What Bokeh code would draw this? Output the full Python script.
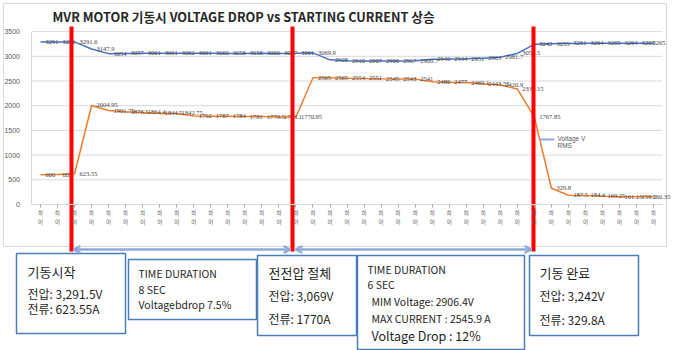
from bokeh.plotting import figure
from bokeh.models import Range1d, LinearAxis, FixedTicker, Arrow, OpenHead
from bokeh.core.properties import value
from bokeh.embed import file_html
from bokeh.resources import INLINE

# ---------------- data ----------------
voltage = [3291, 3291, 3291.6, 3147.9, 3054, 3057, 3061, 3061, 3062, 3061, 3060, 3058,
           3058, 3060, 3057, 3061, 3069.9, 2928, 2910, 2907, 2906, 2907, 2909.7, 2940,
           2944, 2951, 2963, 2981.7, 3058.5, 3242, 3255, 3261, 3264, 3265, 3264, 3265, 3265]
current = [600, 605, 623.55, 2004.95, 1901.75, 1876.5, 1864.4, 1844.5, 1842.75, 1792,
           1787, 1784, 1781, 1779.5, 1773.1, 1770.95, 2565, 2565, 2554, 2551, 2545, 2543,
           2541, 2486, 2477, 2469.1, 2443.55, 2420.9, 2339.15, 1767.85, 329.8, 187.5,
           184.4, 169.25, 161.15, 159.2, 160.35]
tick_label = "하\n어"
y_ticks = [0, 500, 1000, 1500, 2000, 2500, 3000, 3500]
title_text = "MVR MOTOR  기동시 VOLTAGE DROP vs STARTING CURRENT 상승"
legend_text = ["Voltage V", "RMS"]

box1 = ["기동시작", "전압: 3,291.5V", "전류: 623.55A"]
box2 = ["TIME DURATION", "8 SEC", "Voltagebdrop 7.5%"]
box3 = ["전전압 절체", "전압: 3,069V", "전류: 1770A"]
box4 = ["TIME DURATION", "6 SEC", "MIM Voltage: 2906.4V", "MAX CURRENT  : 2545.9 A", "Voltage Drop : 12%"]
box5 = ["기동 완료", "전압: 3,242V", "전류: 329.8A"]

# ---------------- layout constants (pixels) ----------------
W, H = 674, 350
X0, DX = 40.0, 17.03      # pixel of category 0, pixels per category
Y0, KY = 204.0, 0.0494    # pixel of value 0, pixels per unit

idx = list(range(len(voltage)))
n = len(idx)

p = figure(width=W, height=H, output_backend="svg", toolbar_location=None,
           x_axis_location=None, y_axis_location=None, title=None,
           x_range=Range1d(-X0 / DX, (W - X0) / DX),
           y_range=Range1d(-(H - Y0) / KY, Y0 / KY),
           min_border=0, background_fill_color="white", border_fill_color="white")
p.outline_line_color = None
p.grid.visible = False
p.extra_x_ranges = {"px": Range1d(0, W)}
p.extra_y_ranges = {"px": Range1d(H, 0)}
PX = dict(x_range_name="px", y_range_name="px")

# chart border
p.quad(left=[3], right=[666], top=[3], bottom=[246], fill_color=None,
       line_color="#D9D9D9", line_width=1, **PX)

# gridlines
gl = y_ticks[1:]
p.segment(x0=[-0.5] * len(gl), x1=[n - 0.5] * len(gl), y0=gl, y1=gl,
          line_color="#D9D9D9", line_width=1)

# axes
yax = LinearAxis(fixed_location=-0.5, ticker=FixedTicker(ticks=y_ticks), bounds=(0, 3500),
                 axis_line_color="#D9D9D9", major_tick_line_color=None,
                 minor_tick_line_color=None, major_label_text_font_size="7px",
                 major_label_text_color="#595959", major_label_standoff=6,
                 major_label_text_font="Liberation Sans")
p.add_layout(yax, "left")
xax = LinearAxis(fixed_location=0, ticker=FixedTicker(ticks=idx), bounds=(-0.5, n - 0.5),
                 major_label_overrides={i: tick_label for i in idx},
                 axis_line_color="#D9D9D9", major_tick_line_color="#A6A6A6",
                 major_tick_in=0, major_tick_out=3, minor_tick_line_color=None,
                 major_label_text_font_size="5.5px", major_label_text_color="#595959",
                 major_label_standoff=1, major_label_text_font="Noto Sans CJK KR")
p.add_layout(xax, "below")

# series
p.line(idx, voltage, line_color="#4472C4", line_width=1.5)
p.line(idx, current, line_color="#ED7D31", line_width=1.5)

offs = [5] * (n - 1) + [-1]
lab_kw = dict(text_baseline="middle", text_align="left", text_font_size="6.5px",
              text_font=value("Liberation Serif"), text_color="#404040")
p.text(x=idx, y=voltage, text=[f"{v:g}" for v in voltage], x_offset=offs, **lab_kw)
p.text(x=idx, y=current, text=[f"{v:g}" for v in current], x_offset=offs, **lab_kw)

# title
p.text([52], [16], text=[title_text], text_font=value("Noto Sans CJK KR"), text_font_style="bold",
       text_font_size="12.7px", text_color="#262626", text_baseline="middle", **PX)

# legend
p.segment(x0=[539], x1=[554], y0=[139], y1=[139], line_color="#8FAADC", line_width=2, **PX)
p.text([557, 557], [138, 145], text=legend_text, text_font=value("Liberation Sans"),
       text_font_size="6.5px", text_color="#595959", text_baseline="middle", **PX)

# red markers
rx = [71, 292, 533]
p.segment(x0=rx, x1=rx, y0=[26] * 3, y1=[251] * 3, line_color="#FF0000", line_width=4, **PX)

# duration arrows
ac = "#8EA9DB"
for xs, xe in [(73, 290), (295, 531)]:
    p.add_layout(Arrow(start=OpenHead(size=7, line_color=ac, line_width=2),
                       end=OpenHead(size=7, line_color=ac, line_width=2),
                       x_start=xs, y_start=249, x_end=xe, y_end=249,
                       line_color=ac, line_width=2.5, **PX))

# boxes
p.quad(left=[16, 128, 257, 357, 529], right=[125, 256, 356, 524, 638],
       top=[253, 259, 255, 255, 255], bottom=[333, 319, 335, 349, 335],
       fill_color="white", line_color="#4A7EBB", line_width=1.5, **PX)

tk = dict(text_font=value("Noto Sans CJK KR"), text_color="#1F1F1F", text_baseline="middle",
          text_align="left", **PX)

def put(xs, ys, texts, size):
    p.text(xs, ys, text=texts, text_font_size=size, **tk)

put([27], [271], box1[:1], "13px")
put([27, 27], [293, 308], box1[1:], "12px")
put([138, 138, 138], [273, 289, 304], box2, "10.5px")
put([268], [272], box3[:1], "13px")
put([268, 268], [295, 318], box3[1:], "12px")
put([367, 367, 371, 371], [269, 284, 301, 318], box4[:4], "10.5px")
put([371], [335], box4[4:], "12.5px")
put([539], [272], box5[:1], "13px")
put([539, 539], [295, 319], box5[1:], "12px")

open("out.html", "w").write(file_html(p, INLINE))
